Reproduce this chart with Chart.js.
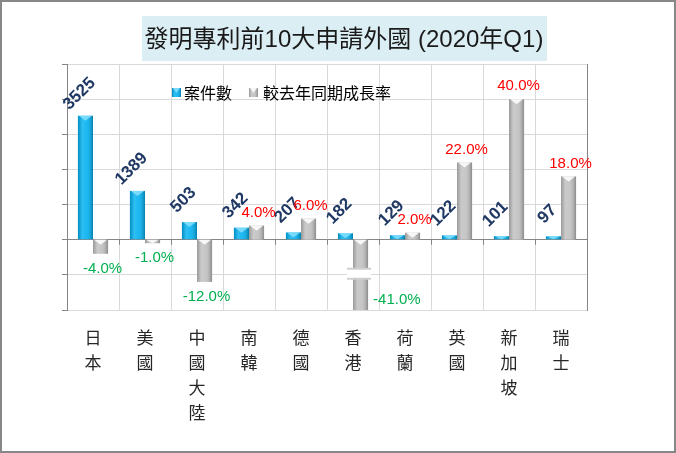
<!DOCTYPE html>
<html>
<head>
<meta charset="utf-8">
<script src="https://cdn.jsdelivr.net/npm/chart.js@4.4.1/dist/chart.umd.min.js"></script>
<style>
html,body{margin:0;padding:0;background:#fff;}
#wrap{width:676px;height:453px;}
</style>
</head>
<body>
<div id="wrap"><canvas id="c" width="676" height="453"></canvas></div>
<script>
const categories = ['日本','美國','中國大陸','南韓','德國','香港','荷蘭','英國','新加坡','瑞士'];
const caseCounts = [3525,1389,503,342,207,182,129,122,101,97];
const growthRates = [-4.0,-1.0,-12.0,4.0,6.0,-41.0,2.0,22.0,40.0,18.0];
const seriesNames = ['案件數','較去年同期成長率'];
const titleText = '發明專利前10大申請外國 (2020年Q1)';

const LATIN = '"Liberation Sans", Arial, "Noto Sans CJK TC", sans-serif';
const CJK = '"Noto Sans CJK TC", "Liberation Sans", sans-serif';
const AXIS = '#868686';
const GRID = '#d9d9d9';

function shadeBar(ctx, left, top, w, h, chevronColor) {
  const g = ctx.createLinearGradient(left, 0, left + w, 0);
  g.addColorStop(0, 'rgba(0,0,0,0.20)');
  g.addColorStop(0.3, 'rgba(255,255,255,0.18)');
  g.addColorStop(0.6, 'rgba(255,255,255,0.10)');
  g.addColorStop(1, 'rgba(0,0,0,0.28)');
  ctx.fillStyle = g;
  ctx.fillRect(left, top, w, h);
  const ch = Math.min(5, h);
  ctx.beginPath();
  ctx.moveTo(left + 1, top);
  ctx.lineTo(left + w - 1, top);
  ctx.lineTo(left + w / 2, top + ch);
  ctx.closePath();
  ctx.fillStyle = chevronColor;
  ctx.fill();
}

const decorPlugin = {
  id: 'decor',
  beforeDraw(chart) {
    const ctx = chart.ctx;
    ctx.save();
    ctx.fillStyle = '#fff';
    ctx.fillRect(0, 0, chart.width, chart.height);
    ctx.fillStyle = '#DBEEF4';
    ctx.fillRect(142, 16, 405, 45);
    ctx.fillStyle = '#1a1a1a';
    ctx.font = '24px ' + LATIN;
    ctx.textAlign = 'center';
    ctx.textBaseline = 'middle';
    ctx.fillText(titleText, 344, 40);
    ctx.restore();
  },
  afterDatasetsDraw(chart) {
    const ctx = chart.ctx;
    const area = chart.chartArea;
    const xs = chart.scales.x;
    const y1 = chart.scales.y1;
    ctx.save();
    ctx.beginPath();
    ctx.rect(area.left, area.top, area.right - area.left, area.bottom - area.top);
    ctx.clip();
    chart.data.datasets.forEach((ds, di) => {
      const meta = chart.getDatasetMeta(di);
      meta.data.forEach((el) => {
        const p = el.getProps(['x', 'y', 'base', 'width'], true);
        const left = p.x - p.width / 2;
        const top = Math.min(p.y, p.base);
        const bottom = Math.min(Math.max(p.y, p.base), area.bottom);
        shadeBar(ctx, left, top, p.width, bottom - top,
          di === 0 ? 'rgba(150,230,255,0.75)' : 'rgba(255,255,255,0.85)');
      });
    });
    ctx.restore();

    const gmeta = chart.getDatasetMeta(1);
    gmeta.data.forEach((el, i) => {
      if (growthRates[i] < y1.min) {
        const p = el.getProps(['x', 'y', 'base', 'width'], true);
        const cy = (p.base + area.bottom) / 2 - 1;
        const l = p.x - p.width / 2 - 6, r = p.x + p.width / 2 + 3;
        ctx.save();
        ctx.fillStyle = '#fff';
        ctx.fillRect(l, cy - 5, r - l, 10);
        ctx.strokeStyle = '#cfcfcf';
        ctx.lineWidth = 2;
        ctx.beginPath();
        ctx.moveTo(l, cy - 5); ctx.lineTo(r, cy - 5);
        ctx.moveTo(l, cy + 5); ctx.lineTo(r, cy + 5);
        ctx.stroke();
        ctx.restore();
      }
    });

    const zeroY = chart.scales.y.getPixelForValue(0);
    ctx.save();
    ctx.strokeStyle = AXIS;
    ctx.lineWidth = 1;
    ctx.beginPath();
    const step = (area.right - area.left) / categories.length;
    for (let i = 0; i <= categories.length; i++) {
      const bx = Math.round(area.left + i * step) + 0.5;
      ctx.moveTo(bx, zeroY);
      ctx.lineTo(bx, zeroY + 5);
    }
    ctx.stroke();
    ctx.restore();

    const cmeta = chart.getDatasetMeta(0);
    ctx.save();
    ctx.fillStyle = '#1F3864';
    ctx.font = 'bold 17px ' + LATIN;
    ctx.textAlign = 'center';
    ctx.textBaseline = 'middle';
    cmeta.data.forEach((el, i) => {
      const p = el.getProps(['x', 'y'], true);
      ctx.save();
      ctx.translate(p.x - 6, p.y - 22);
      ctx.rotate(-Math.PI / 4);
      ctx.fillText(String(caseCounts[i]), 0, 0);
      ctx.restore();
    });
    ctx.restore();

    ctx.save();
    ctx.font = '15px ' + LATIN;
    ctx.textBaseline = 'middle';
    gmeta.data.forEach((el, i) => {
      const v = growthRates[i];
      const p = el.getProps(['x', 'y', 'width'], true);
      const txt = v.toFixed(1) + '%';
      if (v >= 0) {
        ctx.fillStyle = '#FF0000';
        ctx.textAlign = 'center';
        ctx.fillText(txt, p.x + 2, p.y - 13);
      } else if (v < y1.min) {
        ctx.fillStyle = '#00B050';
        ctx.textAlign = 'left';
        ctx.fillText(txt, p.x + p.width / 2 + 5, area.bottom - 10);
      } else {
        ctx.fillStyle = '#00B050';
        ctx.textAlign = 'center';
        ctx.fillText(txt, p.x + 2, p.y + 15);
      }
    });
    ctx.restore();

    ctx.save();
    ctx.fillStyle = '#262626';
    ctx.font = '17px ' + CJK;
    ctx.textAlign = 'center';
    ctx.textBaseline = 'middle';
    categories.forEach((c, i) => {
      const cx = xs.getPixelForValue(i);
      Array.from(c).forEach((ch, k) => {
        ctx.fillText(ch, cx, area.bottom + 28 + k * 25);
      });
    });
    ctx.restore();

    ctx.save();
    const lx = area.left + 105, ly = area.top + 29;
    ctx.fillStyle = '#00B0F0';
    ctx.fillRect(lx, ly - 5, 9, 9);
    shadeBar(ctx, lx, ly - 5, 9, 9, 'rgba(150,230,255,0.75)');
    ctx.fillStyle = '#BFBFBF';
    ctx.fillRect(lx + 77, ly - 5, 9, 9);
    shadeBar(ctx, lx + 77, ly - 5, 9, 9, 'rgba(255,255,255,0.85)');
    ctx.fillStyle = '#000';
    ctx.font = '16px ' + CJK;
    ctx.textAlign = 'left';
    ctx.textBaseline = 'middle';
    ctx.fillText(seriesNames[0], lx + 12, ly);
    ctx.fillText(seriesNames[1], lx + 91, ly);
    ctx.restore();

    ctx.save();
    ctx.strokeStyle = '#878787';
    ctx.lineWidth = 2;
    ctx.strokeRect(1, 1, chart.width - 2, chart.height - 2);
    ctx.restore();
  }
};

new Chart(document.getElementById('c'), {
  type: 'bar',
  data: {
    labels: categories,
    datasets: [
      {
        label: seriesNames[0],
        data: caseCounts,
        yAxisID: 'y',
        backgroundColor: '#00B0F0',
        borderWidth: 0,
        categoryPercentage: 0.58,
        barPercentage: 1.0
      },
      {
        label: seriesNames[1],
        data: growthRates,
        yAxisID: 'y1',
        backgroundColor: '#BFBFBF',
        borderWidth: 0,
        categoryPercentage: 0.58,
        barPercentage: 1.0
      }
    ]
  },
  options: {
    responsive: false,
    animation: false,
    layout: { padding: { left: 62, right: 89, top: 64, bottom: 143 } },
    plugins: {
      legend: { display: false },
      title: { display: false },
      tooltip: { enabled: false }
    },
    scales: {
      x: {
        ticks: { display: false },
        grid: { color: GRID, drawTicks: false, offset: true },
        border: { display: false }
      },
      y: {
        position: 'left',
        min: -2000,
        max: 5000,
        ticks: { display: false, stepSize: 1000 },
        grid: {
          color: (ctx) => (ctx.tick && ctx.tick.value === 0 ? AXIS : GRID),
          tickColor: AXIS,
          tickLength: 5,
          drawTicks: true
        },
        border: { display: true, color: AXIS, width: 1 }
      },
      y1: {
        position: 'right',
        min: -20,
        max: 50,
        ticks: { display: false, stepSize: 10 },
        grid: { display: false, drawTicks: false },
        border: { display: true, color: AXIS, width: 1 }
      }
    }
  },
  plugins: [decorPlugin]
});
</script>
</body>
</html>
